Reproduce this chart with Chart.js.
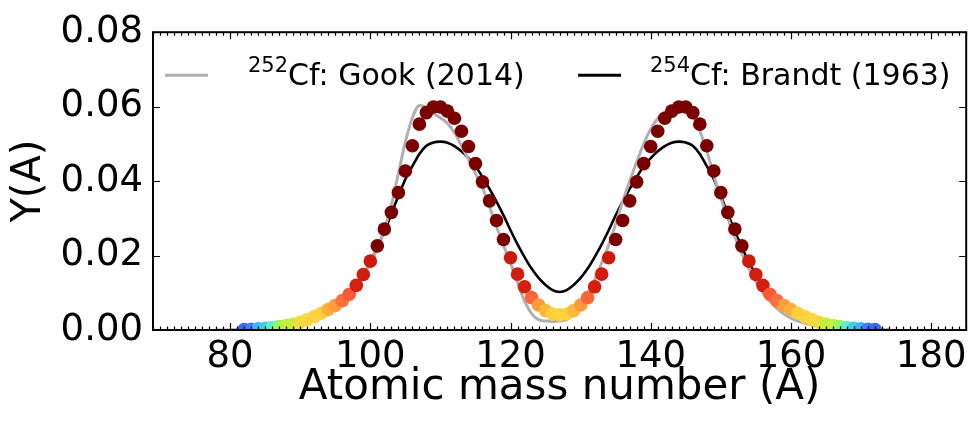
<!DOCTYPE html>
<html>
<head>
<meta charset="utf-8">
<script src="https://cdn.jsdelivr.net/npm/chart.js@4.4.1/dist/chart.umd.min.js"></script>
<style>
  html, body { margin: 0; padding: 0; background: #ffffff; }
  #wrap { width: 973px; height: 421px; }
</style>
</head>
<body>
<div id="wrap"><canvas id="c" width="973" height="421"></canvas></div>
<script>
// ---------- data ----------
const xTicks = [80, 100, 120, 140, 160, 180];
const yTicks = [0.00, 0.02, 0.04, 0.06, 0.08];

// scatter points (coloured dots)
const dotMass = [82,83,84,85,86,87,88,89,90,91,92,93,94,95,96,97,98,99,100,101,102,103,104,105,106,107,108,109,110,111,112,113,114,115,116,117,118,119,120,121,122,123,124,125,126,127,128,129,130,131,132,133,134,135,136,137,138,139,140,141,142,143,144,145,146,147,148,149,150,151,152,153,154,155,156,157,158,159,160,161,162,163,164,165,166,167,168,169,170,171,172];
const dotYield = [0.00015,0.00022,0.00032,0.00046,0.00065,0.0009,0.0012,0.0016,0.0021,0.0028,0.0036,0.0045,0.0055,0.0066,0.0079,0.0096,0.0120,0.0149,0.0185,0.0226,0.0271,0.0316,0.0369,0.0427,0.0495,0.0553,0.0584,0.0599,0.0599,0.0588,0.0569,0.0534,0.0493,0.0447,0.0398,0.0347,0.0294,0.0243,0.0194,0.0150,0.0116,0.0087,0.0067,0.0052,0.0043,0.0041,
  0.0043,0.0052,0.0067,0.0087,0.0116,0.0150,0.0194,0.0243,0.0294,0.0347,0.0398,0.0447,0.0493,0.0534,0.0569,0.0588,0.0599,0.0599,0.0584,0.0553,0.0495,0.0427,0.0369,0.0316,0.0271,0.0226,0.0185,0.0149,0.0120,0.0096,0.0079,0.0066,0.0055,0.0045,0.0036,0.0028,0.0021,0.0016,0.0012,0.0009,0.00065,0.00046,0.00032,0.00022,0.00015];

// 252Cf: Gook (2014)
const gookMass = [78,79,80,81,82,83,84,85,86,87,88,89,90,91,92,93,94,95,96,97,98,99,100,101,102,103,104,105,106,107,108,109,110,111,112,113,114,115,116,117,118,119,120,121,122,123,124,125,126,127,128,129,130,131,132,133,134,135,136,137,138,139,140,141,142,143,144,145,146,147,148,149,150,151,152,153,154,155,156,157,158,159,160,161,162,163,164,165,166,167,168,169,170,171,172,173,174];
const gookYield = [0,0,0,0.00005,0.0001,0.0001,0.0002,0.0003,0.0004,0.0006,0.0008,0.0011,0.0015,0.0020,0.0027,0.0036,0.0048,0.0062,0.0078,0.0097,0.0120,0.0148,0.0180,0.0220,0.0270,0.0335,0.0420,0.0505,0.0570,0.0603,0.0598,0.0582,0.0570,0.0555,0.0530,0.0495,0.0458,0.0420,0.0382,0.0332,0.0278,0.0228,0.0180,0.0128,0.0078,0.0044,0.0028,0.0024,0.0023,
  0.0024,0.0028,0.0040,0.0062,0.0095,0.0135,0.0180,0.0228,0.0285,0.0345,0.0400,0.0452,0.0500,0.0540,0.0568,0.0585,0.0595,0.0600,0.0598,0.0575,0.0535,0.0480,0.0415,0.0355,0.0300,0.0250,0.0205,0.0165,0.0130,0.0100,0.0077,0.0058,0.0043,0.0032,0.0024,0.0018,0.0013,0.0009,0.0006,0.0004,0.0003,0.0002,0.0001,0.0001,0.00005,0,0,0];

// 254Cf: Brandt (1963)
const brandtMass = [80,81,82,83,84,85,86,87,88,89,90,91,92,93,94,95,96,97,98,99,100,101,102,103,104,105,106,107,108,109,110,111,112,113,114,115,116,117,118,119,120,121,122,123,124,125,126,127,128,129,130,131,132,133,134,135,136,137,138,139,140,141,142,143,144,145,146,147,148,149,150,151,152,153,154,155,156,157,158,159,160,161,162,163,164,165,166,167,168,169,170,171,172,173,174];
const brandtYield = [0,0,0.0001,0.0001,0.0002,0.0003,0.0005,0.0007,0.0010,0.0014,0.0019,0.0025,0.0032,0.0041,0.0052,0.0065,0.0081,0.0100,0.0122,0.0150,0.0182,0.0222,0.0265,0.0312,0.0360,0.0405,0.0440,0.0473,0.0495,0.0504,0.0506,0.0503,0.0494,0.0480,0.0462,0.0440,0.0411,0.0379,0.0345,0.0308,0.0268,0.0230,0.0196,0.0165,0.0140,0.0121,0.0107,0.0102,
  0.0107,0.0121,0.0140,0.0165,0.0196,0.0230,0.0268,0.0308,0.0345,0.0379,0.0411,0.0440,0.0462,0.0480,0.0494,0.0503,0.0506,0.0504,0.0495,0.0473,0.0440,0.0405,0.0360,0.0312,0.0265,0.0222,0.0182,0.0150,0.0122,0.0100,0.0081,0.0065,0.0052,0.0041,0.0032,0.0025,0.0019,0.0014,0.0010,0.0007,0.0005,0.0003,0.0002,0.0001,0.0001,0,0];

const legendItems = [
  { sup: '252', text: 'Cf: Gook (2014)', color: '#b0b0b0' },
  { sup: '254', text: 'Cf: Brandt (1963)', color: '#000000' }
];

// ---------- colour map (value -> colour, log scale) ----------
const colorStops = [
  [0.00015, [65, 102, 234]],
  [0.00022, [68, 121, 240]],
  [0.00032, [60, 180, 248]],
  [0.00046, [63, 208, 232]],
  [0.00065, [96, 240, 200]],
  [0.0009,  [144, 248, 112]],
  [0.0012,  [194, 242, 62]],
  [0.0016,  [200, 238, 56]],
  [0.0021,  [240, 220, 64]],
  [0.0028,  [255, 214, 64]],
  [0.0045,  [255, 208, 62]],
  [0.0055,  [255, 174, 60]],
  [0.0067,  [255, 154, 60]],
  [0.0079,  [255, 110, 60]],
  [0.0096,  [250, 90, 52]],
  [0.0116,  [212, 32, 16]],
  [0.0195,  [204, 26, 10]],
  [0.0210,  [122, 0, 0]]
];
function colorFor(v) {
  const lv = Math.log10(Math.max(v, 1e-6));
  if (v <= colorStops[0][0]) return 'rgb(' + colorStops[0][1].join(',') + ')';
  for (let i = 1; i < colorStops.length; i++) {
    if (v <= colorStops[i][0]) {
      const a = Math.log10(colorStops[i-1][0]), b = Math.log10(colorStops[i][0]);
      const t = (lv - a) / (b - a);
      const c = colorStops[i-1][1].map((c0, k) => Math.round(c0 + (colorStops[i][1][k] - c0) * t));
      return 'rgb(' + c.join(',') + ')';
    }
  }
  return 'rgb(' + colorStops[colorStops.length-1][1].join(',') + ')';
}

const toPts = (xs, ys) => xs.map((x, i) => ({ x: x, y: ys[i] }));

// ---------- plugins ----------
const frameTicks = {
  id: 'frameTicks',
  afterDatasetsDraw(chart) {
    const { ctx, chartArea: a, scales: { x, y } } = chart;
    ctx.save();
    ctx.strokeStyle = '#000';
    ctx.lineWidth = 1.2;
    ctx.beginPath();
    for (let v = Math.ceil(x.min); v <= x.max; v++) {
      const px = Math.round(x.getPixelForValue(v)) + 0.5;
      const L = xTicks.includes(v) ? 7 : 3.5;
      ctx.moveTo(px, a.bottom); ctx.lineTo(px, a.bottom - L);
      ctx.moveTo(px, a.top); ctx.lineTo(px, a.top + L);
    }
    yTicks.forEach(v => {
      const py = Math.round(y.getPixelForValue(v)) + 0.5;
      ctx.moveTo(a.left, py); ctx.lineTo(a.left + 7, py);
      ctx.moveTo(a.right, py); ctx.lineTo(a.right - 7, py);
    });
    ctx.stroke();
    ctx.lineWidth = 2;
    ctx.strokeRect(a.left, a.top, a.right - a.left, a.bottom - a.top);
    ctx.restore();
  }
};

const supLegend = {
  id: 'supLegend',
  afterDraw(chart) {
    const { ctx, chartArea: a } = chart;
    const rows = [
      { lx: a.left + 12, tx: a.left + 95 },
      { lx: a.left + 425, tx: a.left + 497 }
    ];
    const ly = a.top + 43;
    ctx.save();
    legendItems.forEach((it, i) => {
      const r = rows[i];
      ctx.strokeStyle = it.color;
      ctx.lineWidth = 3;
      ctx.beginPath();
      ctx.moveTo(r.lx, ly); ctx.lineTo(r.lx + 43, ly);
      ctx.stroke();
      ctx.fillStyle = '#000';
      ctx.textBaseline = 'alphabetic';
      ctx.textAlign = 'left';
      ctx.font = '21px "DejaVu Sans"';
      ctx.fillText(it.sup, r.tx, ly - 3);
      const w = ctx.measureText(it.sup).width;
      ctx.font = '30px "DejaVu Sans"';
      ctx.fillText(it.text, r.tx + w, ly + 10);
    });
    ctx.restore();
  }
};

// ---------- chart ----------
Chart.defaults.font.family = '"DejaVu Sans"';
Chart.defaults.color = '#000';

new Chart(document.getElementById('c'), {
  type: 'scatter',
  data: {
    datasets: [
      {
        label: '252Cf: Gook (2014)',
        data: toPts(gookMass, gookYield),
        showLine: true,
        borderColor: '#b0b0b0',
        borderWidth: 3,
        pointRadius: 0,
        cubicInterpolationMode: 'monotone',
        order: 1,
        clip: 0
      },
      {
        label: '254Cf: Brandt (1963)',
        data: toPts(brandtMass, brandtYield),
        showLine: true,
        borderColor: '#000000',
        borderWidth: 2.6,
        pointRadius: 0,
        cubicInterpolationMode: 'monotone',
        order: 1,
        clip: 0
      },
      {
        label: 'dots',
        data: toPts(dotMass, dotYield),
        showLine: false,
        pointRadius: 6.8,
        pointBorderWidth: 0,
        pointBackgroundColor: ctx => colorFor(ctx.raw ? ctx.raw.y : 0),
        order: 0,
        clip: 0
      }
    ]
  },
  options: {
    responsive: false,
    animation: false,
    layout: { padding: { top: 23, right: 3, left: 0, bottom: 0 } },
    plugins: {
      legend: { display: false },
      tooltip: { enabled: false }
    },
    scales: {
      x: {
        type: 'linear',
        min: 69, max: 185,
        grid: { display: false, drawTicks: false, tickLength: 0 },
        border: { display: false },
        afterBuildTicks: s => { s.ticks = xTicks.map(v => ({ value: v })); },
        afterFit: s => { s.height = 91; },
        ticks: { font: { size: 37 }, padding: 5, maxRotation: 0 },
        title: { display: true, text: 'Atomic mass number (A)', font: { size: 42 }, padding: { top: 0, bottom: 8 } }
      },
      y: {
        type: 'linear',
        min: 0, max: 0.08,
        grid: { display: false, drawTicks: false, tickLength: 0 },
        border: { display: false },
        afterBuildTicks: s => { s.ticks = yTicks.map(v => ({ value: v })); },
        afterFit: s => { s.width = 153; },
        ticks: { font: { size: 37 }, padding: 10, callback: v => v.toFixed(2) },
        title: { display: true, text: 'Y(A)', font: { size: 40 }, padding: { top: 6, bottom: 0 } }
      }
    }
  },
  plugins: [frameTicks, supLegend]
});
</script>
</body>
</html>
